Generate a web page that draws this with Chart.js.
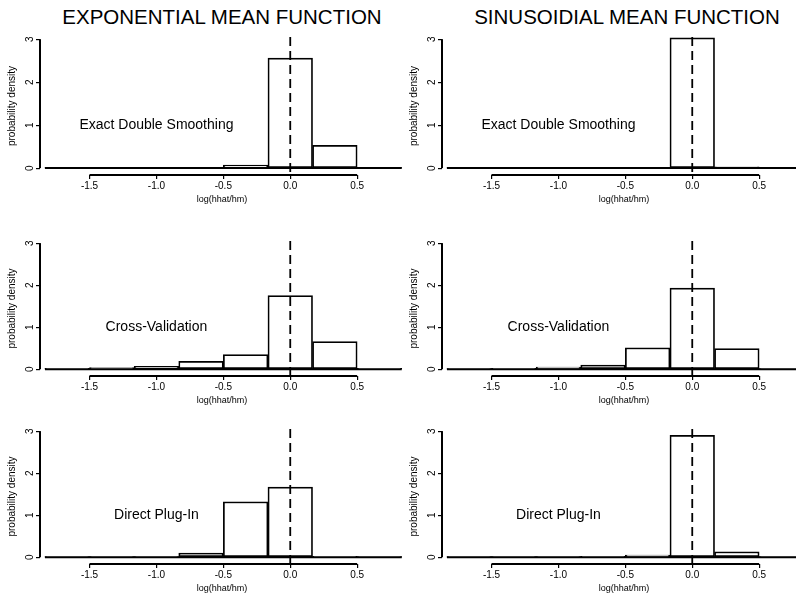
<!DOCTYPE html>
<html>
<head>
<meta charset="utf-8">
<script src="https://cdn.jsdelivr.net/npm/chart.js@4.4.1/dist/chart.umd.min.js"></script>
<style>
  html, body { margin: 0; padding: 0; background: #fff; overflow: hidden; }
  body { position: relative; width: 796px; height: 596px; font-family: 'Liberation Sans', Arial, sans-serif; }
  .col-title { position: absolute; top: 5px; width: 400px; font-size: 20.5px; line-height: 24px; text-align: center; color: #000; }
  canvas { position: absolute; }
</style>
</head>
<body>
<script>
// histogram bins (centres, width 1/3) and axis ticks
const BIN_CENTERS = [-1.6667, -1.3333, -1.0, -0.6667, -0.3333, 0.0, 0.3333, 0.6667];
const BIN_WIDTH = 0.3333;
const X_TICKS = [-1.5, -1.0, -0.5, 0.0, 0.5];
const Y_TICKS = [0, 1, 2, 3];

const MEAN_FUNCTIONS = ['EXPONENTIAL MEAN FUNCTION', 'SINUSOIDIAL MEAN FUNCTION'];
const METHODS = ['Exact Double Smoothing', 'Cross-Validation', 'Direct Plug-In'];

// probability density per bin
const EXP_EDS = [0.01, 0.01, 0.01, 0.02, 0.07, 2.56, 0.53, 0.02];
const SIN_EDS = [0.005, 0.005, 0.01, 0.01, 0.01, 3.03, 0.03, 0.01];
const EXP_CV  = [0.02, 0.04, 0.07, 0.19, 0.35, 1.75, 0.66, 0.02];
const SIN_CV  = [0.01, 0.02, 0.05, 0.10, 0.51, 1.93, 0.49, 0.01];
const EXP_DPI = [0.005, 0.005, 0.01, 0.10, 1.32, 1.67, 0.02, 0.005];
const SIN_DPI = [0.005, 0.005, 0.01, 0.02, 0.05, 2.90, 0.13, 0.005];

const PANELS = [
  [EXP_EDS, SIN_EDS],
  [EXP_CV, SIN_CV],
  [EXP_DPI, SIN_DPI]
];

const REF_LINE = 0;          // log(hhat/hm) = 0
const LABEL_AT = [-1, 1];    // where the method name sits (data units)

// layout
const X_MIN = -1.87, X_MAX = 0.85;
const Y_MIN = -0.16, Y_MAX = 3.05;
const PX_PER_UNIT = 134;
const COL_AXIS_X = [40, 442];
const ROW_TOP = [37, 241, 428.5];
const ROW_UNIT = [43, 42.2, 42];
const Y_AXIS_W = 40, X_AXIS_H = 33, PAD_TOP = 12;
const FONT = '"Liberation Sans", Arial, sans-serif';

MEAN_FUNCTIONS.forEach((t, i) => {
  const div = document.createElement('div');
  div.className = 'col-title';
  div.style.left = (i === 0 ? 22 : 427) + 'px';
  div.textContent = t;
  document.body.appendChild(div);
});

const decorPlugin = {
  id: 'decor',
  afterDraw(chart, args, opts) {
    const ctx = chart.ctx;
    const xs = chart.scales.x, ys = chart.scales.y;
    const axisX = Math.round(xs.getPixelForValue(X_MIN));
    const axisY = Math.round(ys.getPixelForValue(Y_MIN));
    const zeroY = ys.getPixelForValue(0);
    const topY = ys.getPixelForValue(Y_TICKS[Y_TICKS.length - 1]);
    ctx.save();
    ctx.strokeStyle = '#000';
    ctx.fillStyle = '#000';

    // histogram baseline under the bins
    ctx.lineWidth = 2;
    ctx.beginPath();
    ctx.moveTo(xs.getPixelForValue(BIN_CENTERS[0] - BIN_WIDTH / 2), zeroY);
    ctx.lineTo(xs.getPixelForValue(BIN_CENTERS[BIN_CENTERS.length - 1] + BIN_WIDTH / 2), zeroY);
    ctx.stroke();

    // R-style axes: lines only span first to last tick
    const x1 = xs.getPixelForValue(X_TICKS[0]);
    const x2 = xs.getPixelForValue(X_TICKS[X_TICKS.length - 1]);
    ctx.fillRect(x1, axisY - 1, x2 - x1, 2);
    ctx.fillRect(axisX - 1, topY, 2, zeroY - topY);

    // dashed reference line at log(hhat/hm) = 0
    const x0 = xs.getPixelForValue(REF_LINE);
    ctx.setLineDash([9, 5]);
    ctx.lineWidth = 1.8;
    ctx.beginPath();
    ctx.moveTo(x0, ys.getPixelForValue(Y_MAX));
    ctx.lineTo(x0, axisY);
    ctx.stroke();
    ctx.setLineDash([]);

    ctx.font = '14px ' + FONT;
    ctx.textAlign = 'center';
    ctx.textBaseline = 'middle';
    ctx.fillText(opts.label, xs.getPixelForValue(LABEL_AT[0]), ys.getPixelForValue(LABEL_AT[1]));
    ctx.restore();
  }
};

PANELS.forEach((row, r) => {
  row.forEach((values, c) => {
    const areaH = (Y_MAX - Y_MIN) * ROW_UNIT[r];
    const canvas = document.createElement('canvas');
    const w = Math.round(Y_AXIS_W + (X_MAX - X_MIN) * PX_PER_UNIT);
    const h = Math.round(PAD_TOP + areaH + X_AXIS_H);
    canvas.width = w;
    canvas.height = h;
    canvas.style.left = (COL_AXIS_X[c] - Y_AXIS_W) + 'px';
    canvas.style.top = Math.round(ROW_TOP[r] - PAD_TOP) + 'px';
    document.body.appendChild(canvas);

    new Chart(canvas, {
      type: 'bar',
      data: {
        datasets: [{
          data: BIN_CENTERS.map((b, i) => ({ x: b, y: values[i] })),
          backgroundColor: '#fff',
          borderColor: '#000',
          borderWidth: 1.7,
          borderSkipped: false,
          barPercentage: 1,
          categoryPercentage: 1
        }]
      },
      options: {
        responsive: false,
        animation: false,
        devicePixelRatio: 1,
        layout: { padding: { top: PAD_TOP, left: 0, right: 0, bottom: 0 } },
        plugins: {
          legend: { display: false },
          tooltip: { enabled: false },
          decor: { label: METHODS[r] }
        },
        scales: {
          x: {
            type: 'linear',
            offset: false,
            min: X_MIN,
            max: X_MAX,
            afterBuildTicks: (s) => { s.ticks = X_TICKS.map(v => ({ value: v })); },
            afterFit: (s) => { s.height = X_AXIS_H; },
            border: { display: false },
            grid: { offset: false, drawOnChartArea: false, drawTicks: true, tickLength: 4, color: '#000', lineWidth: 1.2 },
            ticks: {
              color: '#000', padding: 1, maxRotation: 0, autoSkip: false,
              font: { family: FONT, size: 10 },
              callback: (v) => Number(v).toFixed(1)
            },
            title: {
              display: true, text: 'log(hhat/hm)', color: '#000',
              font: { family: FONT, size: 9 }, padding: { top: 0, bottom: 2.6 }
            }
          },
          y: {
            min: Y_MIN,
            max: Y_MAX,
            afterBuildTicks: (s) => { s.ticks = Y_TICKS.map(v => ({ value: v })); },
            afterFit: (s) => { s.width = Y_AXIS_W; },
            border: { display: false },
            grid: { drawOnChartArea: false, drawTicks: true, tickLength: 4, color: '#000', lineWidth: 1.2 },
            ticks: {
              color: '#000', padding: 3, minRotation: 90, maxRotation: 90,
              crossAlign: 'center',
              font: { family: FONT, size: 10 }
            },
            title: {
              display: true, text: 'probability density', color: '#000',
              font: { family: FONT, size: 10 }, padding: { top: 6, bottom: 0 }
            }
          }
        }
      },
      plugins: [decorPlugin]
    });
  });
});
</script>
</body>
</html>
